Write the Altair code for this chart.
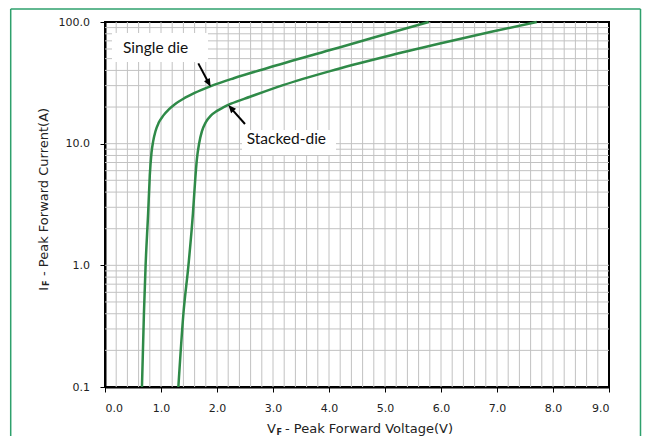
import altair as alt
import pandas as pd

# ---------------- data ----------------
single_v = [0.66, 0.695, 0.725, 0.77, 0.80, 0.83, 0.86, 0.90, 0.96, 1.04, 1.14, 1.26, 1.40,
            1.60, 1.89, 2.30, 2.89, 4.02, 4.80, 5.78]
single_i = [0.1, 0.4, 1.0, 2.66, 5.5, 8.4, 10.45, 12.6, 14.9, 17.0, 19.1, 21.3, 23.4,
            26.1, 29.7, 34.5, 41.7, 58.8, 74.5, 100.0]

stacked_v = [1.31, 1.40, 1.49, 1.57, 1.61, 1.64, 1.68, 1.73, 1.80, 1.89, 2.00, 2.12, 2.25,
             2.59, 3.18, 4.02, 5.00, 5.98, 6.90, 7.71]
stacked_i = [0.1, 0.4, 1.0, 2.66, 5.0, 7.4, 10.0, 12.6, 15.0, 17.0, 18.6, 19.95, 21.3,
             24.3, 30.3, 39.5, 51.8, 66.5, 83.2, 100.0]

x_ticks = [0, 1, 2, 3, 4, 5, 6, 7, 8, 9]
y_ticks = [0.1, 1, 10, 100]
x_grid = [round(0.2 * k, 1) for k in range(1, 45)]
y_grid = [m * d for d in (0.1, 1, 10) for m in (2, 3, 4, 5, 6, 7, 8, 9)] + [1, 10]

labels = ["Single die", "Stacked-die"]
label_v = [0.321, 2.53]
label_i = [61.1, 10.98]
box_v = [0.125, 2.446]
box_v2 = [1.839, 4.125]
box_i = [81.2, 12.95]
box_i2 = [46.9, 8.07]
arrow_v = [1.666, 2.50]
arrow_i = [45.7, 14.5]
arrow_end_v = [1.854, 2.248]
arrow_end_i = [31.4, 19.6]
tip_v = [1.887, 2.202]
tip_i = [29.4, 20.8]
arrow_angle = [152, 319]

x_title = ["V", "F", "- Peak Forward Voltage(V)"]
y_title = ["I", "F", "- Peak Forward Current(A)"]

# ---------------- tables ----------------
curves = pd.concat([
    pd.DataFrame({"V": single_v, "I": single_i, "s": "Single die"}),
    pd.DataFrame({"V": stacked_v, "I": stacked_i, "s": "Stacked-die"}),
])
vgrid = pd.DataFrame({"V": x_grid})
hgrid = pd.DataFrame({"I": y_grid})
boxes = pd.DataFrame({"V": box_v, "V2": box_v2, "I": box_i, "I2": box_i2})
texts = pd.DataFrame({"V": label_v, "I": label_i, "t": labels})
arrows = pd.DataFrame({"V": arrow_v, "I": arrow_i, "V2": arrow_end_v, "I2": arrow_end_i})
heads = pd.DataFrame({"V": tip_v, "I": tip_i, "a": arrow_angle})

GREEN = "#2f8a48"
GRID = "#c2c2c2"
FRAME = "#2ea06c"

xs = alt.Scale(domain=[0, 9], nice=False, zero=False)
ys = alt.Scale(type="log", domain=[0.1, 100], nice=False)
x_axis = alt.Axis(values=x_ticks, format=".1f", grid=False, title=None,
                  domainColor="black", domainWidth=2, tickColor="black", tickWidth=1,
                  tickSize=5, labelFont="DejaVu Sans", labelFontSize=11,
                  labelColor="#222222", labelPadding=10)
y_axis = alt.Axis(values=y_ticks, format=".1f", grid=False, title=None,
                  domainColor="black", domainWidth=2, tickColor="black", tickWidth=1,
                  tickSize=5, labelFont="DejaVu Sans", labelFontSize=11,
                  labelColor="#222222", labelPadding=10.5)

X = alt.X("V:Q", scale=xs, axis=x_axis)
Y = alt.Y("I:Q", scale=ys, axis=y_axis)

one = pd.DataFrame({"k": [0]})

# outer green frame (left, top, right edges)
frame_left = alt.Chart(one).mark_rule(color=FRAME, strokeWidth=1.5).encode(
    x=alt.value(-94.3), y=alt.value(-13), y2=alt.value(470))
frame_right = alt.Chart(one).mark_rule(color=FRAME, strokeWidth=1.5).encode(
    x=alt.value(535.5), y=alt.value(-13), y2=alt.value(470))
frame_top = alt.Chart(one).mark_rule(color=FRAME, strokeWidth=1.5).encode(
    x=alt.value(-94.3), x2=alt.value(535.5), y=alt.value(-13))

vg = alt.Chart(vgrid).mark_rule(color=GRID, strokeWidth=1).encode(x=X)
hg = alt.Chart(hgrid).mark_rule(color=GRID, strokeWidth=1).encode(y=Y)

lines = alt.Chart(curves).mark_line(color=GREEN, strokeWidth=2.5, interpolate="monotone").encode(
    x=X, y=Y, detail="s:N")

box_layer = alt.Chart(boxes).mark_rect(fill="white").encode(
    x=X, x2="V2:Q", y=Y, y2="I2:Q")

text_layer = alt.Chart(texts).mark_text(align="left", baseline="middle", font="Lato",
                                        fontSize=15.5, color="#111111").encode(
    x=X, y=Y, text="t:N")

arrow_layer = alt.Chart(arrows).mark_rule(color="black", strokeWidth=2).encode(
    x=X, y=Y, x2="V2:Q", y2="I2:Q")

head_shape = "M0,0L-0.65,1.6L0.65,1.6Z"
head1 = alt.Chart(heads.iloc[[0]]).mark_point(shape=head_shape, filled=True, color="black",
                                               size=100, strokeWidth=0, opacity=1,
                                               angle=arrow_angle[0]).encode(x=X, y=Y)
head2 = alt.Chart(heads.iloc[[1]]).mark_point(shape=head_shape, filled=True, color="black",
                                               size=100, strokeWidth=0, opacity=1,
                                               angle=arrow_angle[1]).encode(x=X, y=Y)

def piece(txt, px, py, size, bold=False, angle=0):
    kw = dict(align="left", baseline="middle", font="DejaVu Sans", fontSize=size,
              color="#222222")
    if bold:
        kw["fontWeight"] = "bold"
    if angle:
        kw["angle"] = angle
    return alt.Chart(pd.DataFrame({"t": [txt]})).mark_text(**kw).encode(
        x=alt.value(px), y=alt.value(py), text="t:N")

titles = [
    piece(x_title[0], 162, 407, 13),
    piece(x_title[1], 171.5, 410.5, 8, bold=True),
    piece(x_title[2], 180, 407, 13),
    piece(y_title[0], -61.5, 268.7, 13, angle=270),
    piece(y_title[1], -58, 264, 8, bold=True, angle=270),
    piece(y_title[2], -61.5, 254, 13, angle=270),
]

chart = alt.layer(frame_left, frame_right, frame_top, vg, hg, lines, box_layer, text_layer,
                  arrow_layer, head1, head2, *titles).properties(
    width=504, height=365,
    padding={"left": 97, "top": 14, "right": 40, "bottom": 49},
    autosize=alt.AutoSizeParams(type="none"),
    background="white",
).configure_view(stroke="black", strokeWidth=2)

chart.save("out.html", embed_options={"renderer": "svg", "actions": False})
